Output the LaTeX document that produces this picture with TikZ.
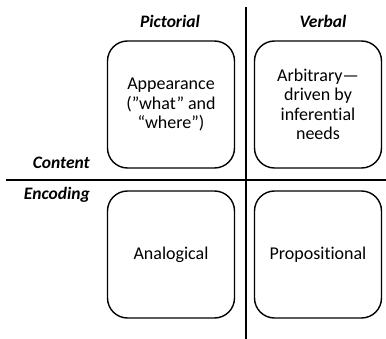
\documentclass[tikz,border=0pt]{standalone}
\usepackage{fontspec}
\setmainfont[Ligatures=NoCommon]{Carlito}
\usepackage{tikz}

\begin{document}
\begin{tikzpicture}[x=1pt,y=-1pt]
\tikzstyle{every node}+=[inner sep=0pt]
\tikzstyle{cell}=[draw=black,line width=1.4pt,rounded corners=20pt,minimum width=127pt,minimum height=127pt,align=center,font=\fontsize{18}{19.5}\selectfont]
\tikzstyle{head}=[font=\fontsize{17.5}{20}\selectfont\bfseries\itshape]
\useasboundingbox (0,0) rectangle (386,339);
% axes
\draw [black,line width=2.4pt] (246,7) -- (246,339);
\draw [black,line width=2.4pt] (6,180) -- (386,180);
% column and row titles
\node [head,anchor=base] (pict) at (170,27.3) {Pictorial};
\node [head,anchor=base] (verb) at (323,27.3) {Verbal};
\node [head,anchor=base east] (cont) at (90,168.3) {Content};
\node [head,anchor=base east] (enc) at (90,200) {Encoding};
% the four cells
\node [cell] (app) at (171,104.5) {Appearance\\(”what” and\\“where”)};
\node [cell] (arb) at (318,104.5) {Arbitrary—\\driven by\\inferential\\needs};
\node [cell] (ana) at (171,254.5) {Analogical};
\node [cell] (prop) at (318,254.5) {Propositional};
\end{tikzpicture}
\end{document}
